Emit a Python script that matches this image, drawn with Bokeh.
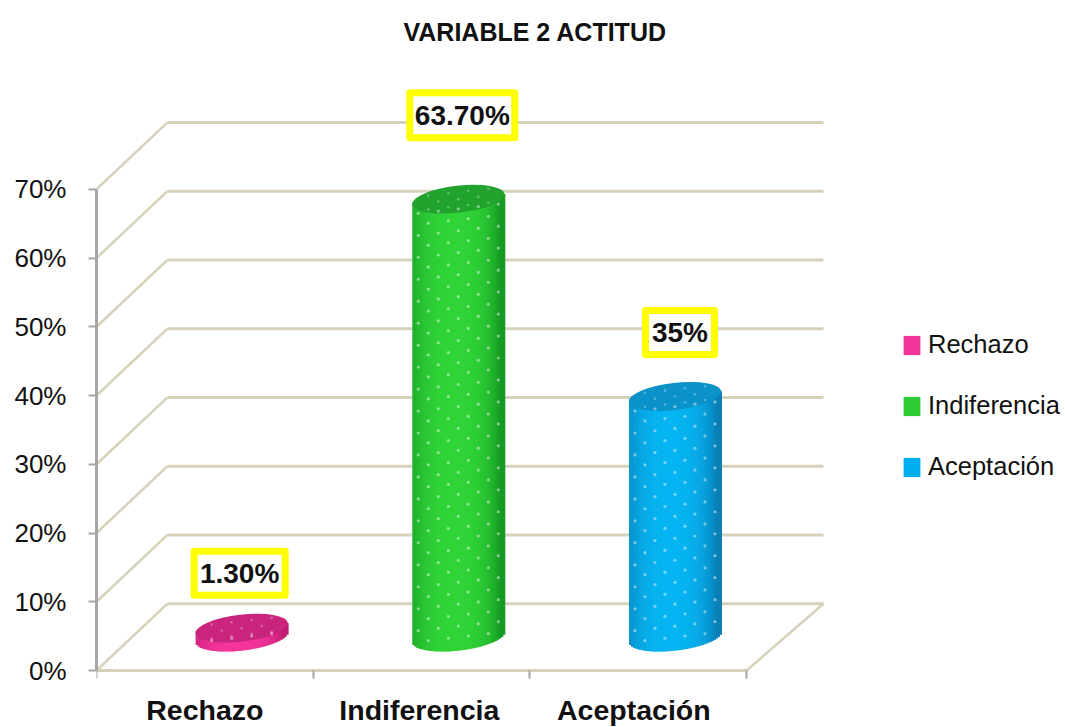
import numpy as np
from bokeh.plotting import figure
from bokeh.embed import file_html
from bokeh.resources import INLINE
from bokeh.core.properties import value
from bokeh.models import Range1d, FixedTicker, Legend, LegendItem

# ---- data ----
categories = ["Rechazo", "Indiferencia", "Aceptación"]
values = [1.3, 63.7, 35.0]
value_labels = ["1.30%", "63.70%", "35%"]
y_ticks = [0, 10, 20, 30, 40, 50, 60, 70]
y_tick_labels = ["0%", "10%", "20%", "30%", "40%", "50%", "60%", "70%"]
title_text = "VARIABLE 2 ACTITUD"

# ---- styles ----
body_edge = ["#C01A72", "#159A22", "#0A7FB5"]
body_mid = ["#F5359C", "#30D438", "#06B4F2"]
top_fill = ["#C9257C", "#22A32E", "#0B93C9"]
legend_fill = ["#F2359A", "#2FCB35", "#00AEEF"]
GRID = "#D6D1BB"
AXIS = "#A6A6A6"
INK = "#111111"

# ---- layout (page pixels) ----
W, H = 1061, 727
LEFT, BOTTOM_PX, TOP_PX = 96, 670, 59
PXX = 650 / 3
PXY = (670 - 188) / 70
DEPTH_X, DEPTH_Y = 71 / PXX, 67 / PXY
BACK_END = 3 + 77 / PXX
CYL_DX = 36.8 / PXX
CYL_DY = DEPTH_Y / 2
RX, RY, TILT = 46, 13.5, np.radians(6.5)
# label boxes: centre offset from top of cylinder in px, outer size
box_dx = [-2, 4, 5]
box_dy = [55, 84, 64]
box_w = [98, 112, 76]
box_h = [51, 52, 51]
BORDER = 7

p = figure(width=W, height=H, output_backend="svg", toolbar_location=None,
           x_range=Range1d(0, (W - LEFT) / PXX),
           y_range=Range1d(-(H - BOTTOM_PX) / PXY, (BOTTOM_PX - TOP_PX) / PXY),
           min_border_left=LEFT, min_border_right=0,
           min_border_top=TOP_PX, min_border_bottom=0,
           background_fill_color="white", border_fill_color="white",
           outline_line_color=None)
p.grid.visible = False

p.title.text = title_text
p.title.align = "left"
p.title.offset = 403 - 96
p.title.text_font = "Liberation Sans"
p.title.text_font_style = "bold"
p.title.text_font_size = "25px"
p.title.text_color = INK
p.title.standoff = 30

# axes
ya = p.yaxis[0]
ya.ticker = FixedTicker(ticks=y_ticks)
ya.major_label_overrides = dict(zip(y_ticks, y_tick_labels))
ya.bounds = (0, 70)
ya.axis_line_color = AXIS
ya.axis_line_width = 3
ya.major_tick_line_color = AXIS
ya.major_tick_line_width = 2
ya.major_tick_in = 0
ya.major_tick_out = 8
ya.minor_tick_line_color = None
ya.major_label_text_font = "Liberation Sans"
ya.major_label_text_font_size = "26px"
ya.major_label_text_color = INK
ya.major_label_standoff = 22

xa = p.xaxis[0]
centers = [0.5, 1.5, 2.5]
label_ticks = [0.5, 1.49, 2.48]
xa.ticker = FixedTicker(ticks=label_ticks, minor_ticks=[0, 1, 2, 3])
xa.major_label_overrides = dict(zip(label_ticks, categories))
xa.bounds = (0, 3)
xa.fixed_location = 0
xa.axis_line_color = GRID
xa.axis_line_width = 3
xa.major_tick_line_color = None
xa.minor_tick_line_color = AXIS
xa.minor_tick_line_width = 2
xa.minor_tick_in = 0
xa.minor_tick_out = 8
xa.major_label_text_font = "Liberation Sans"
xa.major_label_text_font_style = "bold"
xa.major_label_text_font_size = "28.5px"
xa.major_label_text_color = INK
xa.major_label_standoff = 15

# walls
back_x, back_y, diag_x, diag_y = [], [], [], []
for t in y_ticks:
    diag_x.append([0, DEPTH_X])
    diag_y.append([t, t + DEPTH_Y])
    back_x.append([DEPTH_X, BACK_END])
    back_y.append([t + DEPTH_Y, t + DEPTH_Y])
p.multi_line(diag_x, diag_y, line_color=GRID, line_width=2.5)
p.multi_line(back_x, back_y, line_color=GRID, line_width=3)
p.line([3, BACK_END], [0, DEPTH_Y], line_color=GRID, line_width=2.5)


def lerp(a, b, t):
    ca = [int(a[i:i + 2], 16) for i in (1, 3, 5)]
    cb = [int(b[i:i + 2], 16) for i in (1, 3, 5)]
    return "#%02x%02x%02x" % tuple(int(round(x + (y - x) * t)) for x, y in zip(ca, cb))


# cylinders
N = 46
for i, v in enumerate(values):
    cx = centers[i] + CYL_DX
    base = CYL_DY
    top = base + v
    edges = np.linspace(-1, 1, N + 1)
    mids = (edges[:-1] + edges[1:]) / 2
    tilt_off = mids * RX * np.tan(TILT) / PXY
    arc = RY * np.sqrt(1 - mids ** 2) / PXY
    shade = np.clip(1 - np.abs(mids + 0.1) ** 2.6, 0, 1) ** 0.8
    p.quad(left=cx + edges[:-1] * RX / PXX, right=cx + edges[1:] * RX / PXX + 1 / PXX,
           bottom=base + tilt_off - arc, top=top + tilt_off,
           fill_color=[lerp(body_edge[i], body_mid[i], s) for s in shade],
           line_color=None)
    # top cap
    p.ellipse(x=[cx], y=[top], width=2 * RX + 1, height=2 * RY, width_units="screen",
              height_units="screen", angle=TILT, fill_color=top_fill[i], line_color=None)
    # dot pattern on the side
    xs, ys = [], []
    row = 0
    py = 5.0
    while py < v * PXY - 2:
        offs = np.arange(-50, 60, 20) + (10 if row % 2 else 0)
        for o in offs:
            u = o / RX
            if abs(u) < 0.93:
                xs.append(cx + o / PXX)
                ys.append(base + py / PXY + u * RX * np.tan(TILT) / PXY - 5 / PXY)
        py += 11
        row += 1
    if xs:
        p.scatter(xs, ys, size=3.2, marker="circle", fill_color="white",
                  fill_alpha=0.45, line_color=None)
    # dot pattern on the cap
    xs, ys = [], []
    for row in range(-1, 2):
        for o in np.arange(-40, 50, 20) + (10 if row % 2 else 0):
            dy = row * 7
            if (o / RX) ** 2 + (dy / RY) ** 2 < 0.75:
                xs.append(cx + o / PXX)
                ys.append(top + (dy + o * np.tan(TILT)) / PXY)
    p.scatter(xs, ys, size=2.6, marker="circle", fill_color="white",
              fill_alpha=0.3, line_color=None)

# value labels
lab_x = [centers[i] + CYL_DX + box_dx[i] / PXX for i in range(3)]
lab_y = [CYL_DY + values[i] + box_dy[i] / PXY for i in range(3)]
p.rect(x=lab_x, y=lab_y,
       width=[w - BORDER for w in box_w], height=[h - BORDER for h in box_h],
       width_units="screen", height_units="screen",
       fill_color="white", line_color="#FFFF00", line_width=BORDER, line_join="round")
p.text(x=lab_x, y=lab_y, text=value_labels, text_align="center", text_baseline="middle",
       text_font=value("Liberation Sans"), text_font_style="bold",
       text_font_size="28px", text_color=INK)

# legend
items = []
for i, c in enumerate(categories):
    r = p.quad(left=[np.nan], right=[np.nan], top=[np.nan], bottom=[np.nan],
               fill_color=legend_fill[i], line_color=None)
    items.append(LegendItem(label=c, renderers=[r]))
legend = Legend(items=items, location=(901 - 96, H - 481),
                orientation="vertical", background_fill_alpha=0, border_line_color=None,
                margin=0, padding=0, spacing=32, glyph_width=21, glyph_height=24,
                label_height=20, label_width=130, label_standoff=6,
                label_text_font="Liberation Sans", label_text_font_size="25.5px",
                label_text_color=INK)
p.add_layout(legend, "center")

open("out.html", "w").write(file_html(p, INLINE))
